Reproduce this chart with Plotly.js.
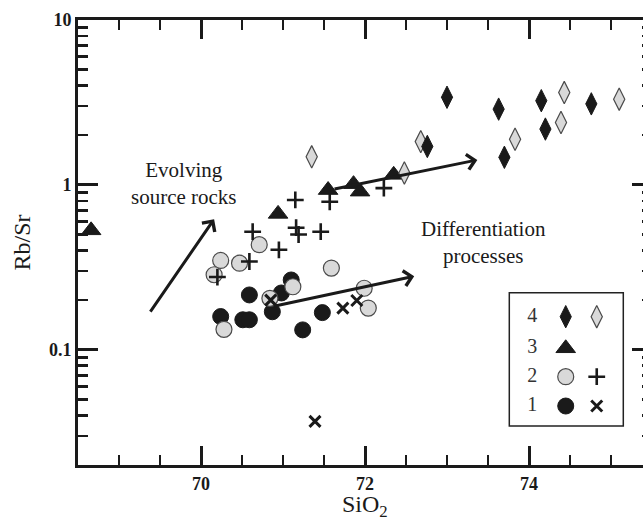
<!DOCTYPE html>
<html><head><meta charset="utf-8">
<script src="https://cdn.plot.ly/plotly-3.0.1.min.js"></script>
<style>html,body{margin:0;padding:0;overflow:hidden;background:#fff}#chart{width:660px;height:519px}</style>
</head><body><div id="chart"></div>
<script>
// ---- data ----
const diamondFilledX = [73.00, 73.63, 74.15, 74.76, 74.20, 73.70, 72.76];
const diamondFilledY = [3.40, 2.88, 3.24, 3.10, 2.18, 1.47, 1.71];
const diamondOpenX = [71.35, 72.68, 72.48, 73.83, 74.39, 74.43, 75.10];
const diamondOpenY = [1.48, 1.83, 1.18, 1.89, 2.39, 3.63, 3.31];
const triangleX = [68.66, 70.94, 71.55, 71.86, 71.94, 72.35];
const triangleY = [0.53, 0.667, 0.93, 1.01, 0.91, 1.15];
const plusX = [71.15, 71.57, 72.23, 70.63, 71.16, 71.19, 71.46, 70.95, 70.59, 70.20];
const plusY = [0.81, 0.79, 0.955, 0.52, 0.55, 0.50, 0.52, 0.404, 0.343, 0.276];
const circleOpenX = [70.71, 70.24, 70.47, 70.16, 70.84, 71.12, 70.28, 71.59, 71.99, 72.04];
const circleOpenY = [0.434, 0.348, 0.335, 0.285, 0.205, 0.241, 0.133, 0.313, 0.236, 0.179];
const circleFilledX = [70.59, 70.98, 71.10, 70.24, 70.51, 70.59, 70.87, 71.24, 71.48];
const circleFilledY = [0.215, 0.221, 0.265, 0.159, 0.152, 0.152, 0.170, 0.132, 0.168];
const xMarkX = [71.73, 71.90, 71.39, 70.85];
const xMarkY = [0.179, 0.199, 0.0368, 0.20];

// trend arrows (tail -> head)
const arrowTailX = [69.37, 71.61, 70.87];
const arrowTailY = [0.167, 0.94, 0.183];
const arrowHeadX = [70.16, 73.37, 72.60];
const arrowHeadY = [0.619, 1.417, 0.279];

const xTickVals = [70, 72, 74];
const xTickText = ['70', '72', '74'];
const yTickVals = [0.1, 1, 10];
const yTickText = ['0.1', '1', '10'];
const legendLabels = ['4', '3', '2', '1'];

// ---- styling / layout constants ----
const INK = '#1a1a1a';
const GREY = '#d9d9d9';
const FONT = 'Liberation Serif';
const X_RANGE = [68.5, 75.5];
const Y_RANGE = [Math.log10(0.02), 1];
const LEG_BOX = {x0: 0.7514, x1: 0.95, y0: 0.0876, y1: 0.3872}; // paper fractions
const legendRowF = [0.82, 0.583, 0.37, 0.15];                    // fractions inside the box
const legendColF = [0.495, 0.767];
const legendLabelF = 0.202;
// box fraction -> main-axis data coordinates
const legX = f => X_RANGE[0] + (LEG_BOX.x0 + f * (LEG_BOX.x1 - LEG_BOX.x0)) * (X_RANGE[1] - X_RANGE[0]);
const legY = f => Math.pow(10, Y_RANGE[0] + (LEG_BOX.y0 + f * (LEG_BOX.y1 - LEG_BOX.y0)) * (Y_RANGE[1] - Y_RANGE[0]));

const styles = {
  circleFilled: {symbol: 'circle', size: 16, color: INK, line: {color: INK, width: 1}},
  circleOpen: {symbol: 'circle', size: 16, color: GREY, line: {color: '#4a4a4a', width: 1.2}},
  xMark: {symbol: 'x-thin', size: 11, color: INK, line: {color: INK, width: 3}},
  plus: {symbol: 'cross-thin', size: 12, color: INK, line: {color: INK, width: 2.6}},
  triangle: {symbol: 'triangle-up', size: 17, color: INK, line: {color: INK, width: 1}},
  diamondOpen: {symbol: 'diamond-tall', size: 16, color: GREY, line: {color: '#4a4a4a', width: 1.2}},
  diamondFilled: {symbol: 'diamond-tall', size: 16, color: INK, line: {color: INK, width: 1}}
};

// group -> legend row (index in legendLabels) and column
const groups = [
  {x: circleFilledX, y: circleFilledY, style: styles.circleFilled, row: 3, col: 0},
  {x: circleOpenX, y: circleOpenY, style: styles.circleOpen, row: 2, col: 0},
  {x: xMarkX, y: xMarkY, style: styles.xMark, row: 3, col: 1},
  {x: plusX, y: plusY, style: styles.plus, row: 2, col: 1},
  {x: triangleX, y: triangleY, style: styles.triangle, row: 1, col: 0},
  {x: diamondOpenX, y: diamondOpenY, style: styles.diamondOpen, row: 0, col: 1},
  {x: diamondFilledX, y: diamondFilledY, style: styles.diamondFilled, row: 0, col: 0}
];

const traces = [];
groups.forEach(g => {
  traces.push({type: 'scatter', mode: 'markers', x: g.x, y: g.y, marker: g.style, hoverinfo: 'x+y'});
});
groups.forEach(g => {
  traces.push({type: 'scatter', mode: 'markers', x: [legX(legendColF[g.col])], y: [legY(legendRowF[g.row])],
    marker: g.style, hoverinfo: 'skip'});
});
traces.push({type: 'scatter', mode: 'text', x: legendLabels.map(() => legX(legendLabelF)), y: legendRowF.map(legY),
  text: legendLabels, hoverinfo: 'skip', textfont: {family: FONT, size: 20, color: '#333'}, textposition: 'middle center'});
// invisible anchor trace so the overlay axes carrying the minor ticks are drawn
traces.push({type: 'scatter', mode: 'markers', x: [diamondFilledX[0]], y: [diamondFilledY[0]], xaxis: 'x2', yaxis: 'y2',
  marker: {opacity: 0}, hoverinfo: 'skip'});

// minor tick positions: every 0.5 on x (excluding majors), 2..9 per decade on y
const minorX = [];
for (let v = X_RANGE[0] + 0.5; v < X_RANGE[1]; v += 0.5) { if (!xTickVals.includes(v)) minorX.push(v); }
const minorY = [];
[0.01, 0.1, 1].forEach(dec => { for (let d = 2; d <= 9; d++) { const v = d * dec; if (v > 0.0201 && v < 10) minorY.push(+v.toPrecision(3)); } });

const annotations = arrowHeadX.map((hx, i) => ({
  x: hx, y: Math.log10(arrowHeadY[i]), ax: arrowTailX[i], ay: Math.log10(arrowTailY[i]),
  xref: 'x', yref: 'y', axref: 'x', ayref: 'y', text: '', showarrow: true,
  arrowhead: 4, arrowsize: 1, arrowwidth: 3, arrowcolor: INK
}));
annotations.push({xref: 'paper', yref: 'paper', x: 0.1847, y: 0.6315, xanchor: 'center', yanchor: 'middle',
  text: 'Evolving<br>source rocks', showarrow: false, font: {family: FONT, size: 21, color: INK}, align: 'center'});
annotations.push({xref: 'paper', yref: 'paper', x: 0.7056, y: 0.499, xanchor: 'center', yanchor: 'middle',
  text: 'Differentiation<br>processes', showarrow: false, font: {family: FONT, size: 21, color: INK}, align: 'center'});
// axis titles
annotations.push({xref: 'paper', yref: 'paper', x: 0.5, y: 0, xanchor: 'center', yanchor: 'middle', yshift: -41,
  text: 'SiO<sub>2</sub>', showarrow: false, font: {family: FONT, size: 24, color: INK}});
annotations.push({xref: 'paper', yref: 'paper', x: 0, y: 0.5, xanchor: 'center', yanchor: 'middle', xshift: -57,
  textangle: -90, text: 'Rb/Sr', showarrow: false, font: {family: FONT, size: 24, color: INK}});

const axisCommon = {
  ticks: 'inside', tickcolor: INK, tickwidth: 3, showline: true, linewidth: 3, linecolor: INK,
  mirror: 'ticks', showgrid: false, zeroline: false,
  tickfont: {family: FONT, size: 18, color: INK, weight: 'bold'}
};
const minorAxis = {
  ticks: 'inside', tickcolor: INK, tickwidth: 2.5, ticklen: 10, showline: true, linewidth: 3, linecolor: INK,
  mirror: 'ticks', showgrid: false, zeroline: false, showticklabels: false, tickmode: 'array'
};

const layout = {
  width: 660, height: 519,
  margin: {l: 78, r: 8, t: 20, b: 54},
  paper_bgcolor: '#fff', plot_bgcolor: '#fff',
  showlegend: false,
  xaxis: Object.assign({}, axisCommon, {
    range: X_RANGE, tickmode: 'array', tickvals: xTickVals, ticktext: xTickText, ticklen: 19
  }),
  yaxis: Object.assign({}, axisCommon, {
    type: 'log', range: Y_RANGE, tickmode: 'array', tickvals: yTickVals, ticktext: yTickText, ticklen: 20
  }),
  xaxis2: Object.assign({}, minorAxis, {overlaying: 'x', anchor: 'y2', side: 'bottom', range: X_RANGE, tickvals: minorX}),
  yaxis2: Object.assign({}, minorAxis, {overlaying: 'y', anchor: 'x2', side: 'left', type: 'log', range: Y_RANGE, tickvals: minorY}),
  shapes: [{type: 'rect', xref: 'paper', yref: 'paper', x0: LEG_BOX.x0, x1: LEG_BOX.x1, y0: LEG_BOX.y0, y1: LEG_BOX.y1,
    line: {color: '#222', width: 1.5}, fillcolor: 'rgba(0,0,0,0)', layer: 'below'}],
  annotations: annotations
};

Plotly.newPlot('chart', traces, layout, {displayModeBar: false, staticPlot: true});
</script></body></html>
